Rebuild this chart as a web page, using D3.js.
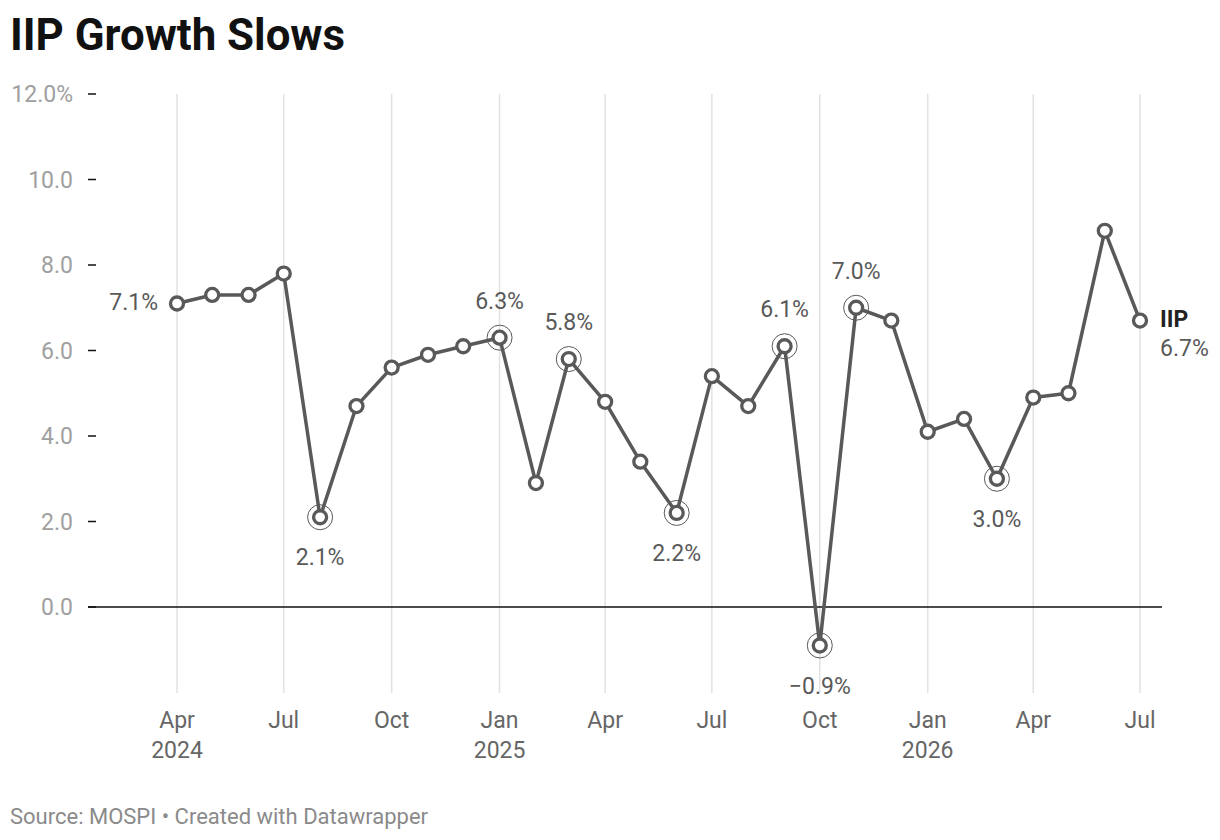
<!DOCTYPE html>
<html>
<head>
<meta charset="utf-8">
<script src="https://cdn.jsdelivr.net/npm/d3@7"></script>
<style>
  body { margin: 0; background: #fff; font-family: Roboto, "Noto Sans", sans-serif; }
</style>
</head>
<body>
<div id="chart"></div>
<script>
// monthly IIP growth, %
var months = ["2024-04","2024-05","2024-06","2024-07","2024-08","2024-09","2024-10","2024-11","2024-12",
  "2025-01","2025-02","2025-03","2025-04","2025-05","2025-06","2025-07","2025-08","2025-09","2025-10",
  "2025-11","2025-12","2026-01","2026-02","2026-03","2026-04","2026-05","2026-06","2026-07"];
var iip = [7.1, 7.3, 7.3, 7.8, 2.1, 4.7, 5.6, 5.9, 6.1,
  6.3, 2.9, 5.8, 4.8, 3.4, 2.2, 5.4, 4.7, 6.1, -0.9,
  7.0, 6.7, 4.1, 4.4, 3.0, 4.9, 5.0, 8.8, 6.7];
// highlighted points and where their label goes
var highlights = [
  { month: "2024-08", pos: "below" },
  { month: "2025-01", pos: "above" },
  { month: "2025-03", pos: "above" },
  { month: "2025-06", pos: "below" },
  { month: "2025-09", pos: "above" },
  { month: "2025-10", pos: "below" },
  { month: "2025-11", pos: "above" },
  { month: "2026-03", pos: "below" }
];
var yTicks = [0, 2, 4, 6, 8, 10, 12];
var xTicks = ["2024-04","2024-07","2024-10","2025-01","2025-04","2025-07","2025-10","2026-01","2026-04","2026-07"];

var W = 1220, H = 840;
var parse = d3.timeParse("%Y-%m");
var data = months.map(function (m, i) { return { date: parse(m), key: m, value: iip[i] }; });

var svg = d3.select("#chart").append("svg")
  .attr("width", W).attr("height", H);

svg.append("text")
  .attr("x", 10).attr("y", 50)
  .attr("font-size", 43.8).attr("font-weight", 700)
  .attr("fill", "#111")
  .text("IIP Growth Slows");

var x = d3.scaleTime()
  .domain([parse("2024-04"), parse("2026-07")])
  .range([177, 1140]);
var y = d3.scaleLinear().domain([0, 12]).range([607, 94]);

// vertical grid
svg.append("g").selectAll("line")
  .data(xTicks)
  .enter().append("line")
  .attr("x1", function (d) { return x(parse(d)); })
  .attr("x2", function (d) { return x(parse(d)); })
  .attr("y1", 94).attr("y2", 693)
  .attr("stroke", "#e2e2e2").attr("stroke-width", 1.5);

// y axis labels + ticks
var yg = svg.append("g");
yg.selectAll("line").data(yTicks).enter().append("line")
  .attr("x1", 88).attr("x2", 96)
  .attr("y1", function (d) { return y(d); }).attr("y2", function (d) { return y(d); })
  .attr("stroke", "#111").attr("stroke-width", 1.5);
yg.selectAll("text").data(yTicks).enter().append("text")
  .attr("x", 73).attr("y", function (d) { return y(d); })
  .attr("dy", "0.35em")
  .attr("text-anchor", "end")
  .attr("font-size", 23).attr("fill", "#a0a0a0")
  .text(function (d) { return d === 12 ? d.toFixed(1) + "%" : d.toFixed(1); });

// zero line
svg.append("line")
  .attr("x1", 88).attr("x2", 1162)
  .attr("y1", y(0)).attr("y2", y(0))
  .attr("stroke", "#111").attr("stroke-width", 1.5);

// x labels
var xg = svg.append("g");
var fmtMonth = d3.timeFormat("%b");
xTicks.forEach(function (t) {
  var d = parse(t);
  xg.append("text")
    .attr("x", x(d)).attr("y", 728)
    .attr("text-anchor", "middle")
    .attr("font-size", 23).attr("fill", "#666")
    .text(fmtMonth(d));
  if (d.getMonth() === 0 || t === xTicks[0]) {
    xg.append("text")
      .attr("x", x(d)).attr("y", 758)
      .attr("text-anchor", "middle")
      .attr("font-size", 23).attr("fill", "#666")
      .text(d.getFullYear());
  }
});

// line
var line = d3.line()
  .x(function (d) { return x(d.date); })
  .y(function (d) { return y(d.value); });
svg.append("path")
  .datum(data)
  .attr("d", line)
  .attr("fill", "none")
  .attr("stroke", "#595959").attr("stroke-width", 3.5)
  .attr("stroke-linejoin", "round");

// highlight rings
var byKey = new Map(data.map(function (d) { return [d.key, d]; }));
svg.append("g").selectAll("circle")
  .data(highlights)
  .enter().append("circle")
  .attr("cx", function (h) { return x(byKey.get(h.month).date); })
  .attr("cy", function (h) { return y(byKey.get(h.month).value); })
  .attr("r", 12.5)
  .attr("fill", "none").attr("stroke", "#595959").attr("stroke-width", 1);

// points
svg.append("g").selectAll("circle")
  .data(data)
  .enter().append("circle")
  .attr("cx", function (d) { return x(d.date); })
  .attr("cy", function (d) { return y(d.value); })
  .attr("r", 6.5)
  .attr("fill", "#fff").attr("stroke", "#595959").attr("stroke-width", 3.3);

function pct(v) { return (v < 0 ? "\u2212" + Math.abs(v).toFixed(1) : v.toFixed(1)) + "%"; }

// value labels
svg.append("g").selectAll("text")
  .data(highlights)
  .enter().append("text")
  .attr("x", function (h) { return x(byKey.get(h.month).date); })
  .attr("y", function (h) {
    var py = y(byKey.get(h.month).value);
    return h.pos === "above" ? py - 37 : py + 40;
  })
  .attr("dy", "0.35em")
  .attr("text-anchor", "middle")
  .attr("font-size", 23).attr("fill", "#595959")
  .text(function (h) { return pct(byKey.get(h.month).value); });

// first point label
var first = data[0];
svg.append("text")
  .attr("x", x(first.date) - 19).attr("y", y(first.value))
  .attr("dy", "0.3em")
  .attr("text-anchor", "end")
  .attr("font-size", 23).attr("fill", "#595959")
  .text(pct(first.value));

// series label at end
var last = data[data.length - 1];
svg.append("text")
  .attr("x", x(last.date) + 20).attr("y", y(last.value))
  .attr("dy", "0.3em")
  .attr("font-size", 23).attr("font-weight", 700).attr("fill", "#222")
  .text("IIP");
svg.append("text")
  .attr("x", x(last.date) + 20).attr("y", y(last.value) + 29)
  .attr("dy", "0.3em")
  .attr("font-size", 23).attr("fill", "#595959")
  .text(pct(last.value));

// source
svg.append("text")
  .attr("x", 10).attr("y", 824)
  .attr("font-size", 22).attr("fill", "#8a8a8a")
  .text("Source: MOSPI \u2022 Created with Datawrapper");
</script>
</body>
</html>
